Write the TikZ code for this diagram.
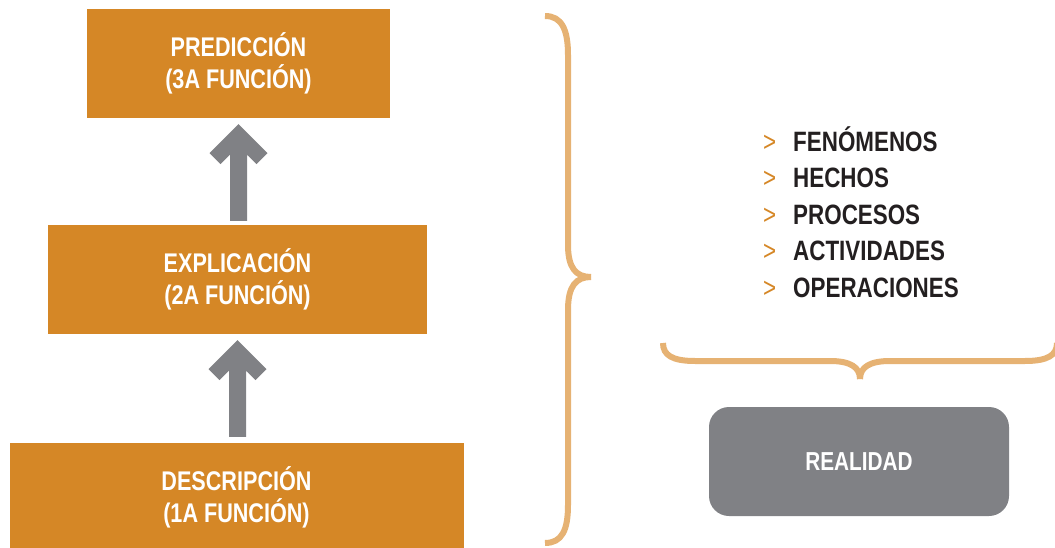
\documentclass[tikz,border=0pt]{standalone}
\usepackage{fontspec}
\setmainfont{Liberation Sans}[FakeStretch=0.8]
\usetikzlibrary{calc}
\definecolor{boxorange}{HTML}{D58726}
\definecolor{bracecol}{HTML}{E6B273}
\definecolor{arrowgray}{HTML}{808185}
\definecolor{textdark}{HTML}{231F20}
\tikzset{
  obox/.style={fill=boxorange, text=white, align=center, inner sep=0pt,
    minimum height=109pt, font=\bfseries\fontsize{27}{32}\selectfont},
  rbox/.style={fill=arrowgray, rounded corners=20pt, text=white, inner sep=0pt,
    minimum width=300pt, minimum height=109pt, font=\bfseries\fontsize{26}{30}\selectfont},
  listitem/.style={anchor=base west, inner sep=0pt, text=textdark,
    font=\bfseries\fontsize{28}{32}\selectfont},
  listmark/.style={anchor=base west, inner sep=0pt, text=boxorange,
    font=\fontsize{28}{32}\selectfont},
  bracepath/.style={draw=bracecol, line width=6pt},
  bigarrow/.style={fill=arrowgray}
}
\begin{document}
\begin{tikzpicture}[x=1pt,y=-1pt]
\useasboundingbox (0,0) rectangle (1055,548);

% boxes
\node[obox, minimum width=303pt] (p) at (238.5,63.5) {PREDICCIÓN\\(3A FUNCIÓN)};
\node[obox, minimum width=379pt] (e) at (237.5,279.5) {EXPLICACIÓN\\(2A FUNCIÓN)};
\node[obox, minimum width=454pt] (d) at (236.5,497.5) {DESCRIPCIÓN\\(1A FUNCIÓN)};

% arrows
\coordinate (a1t) at ($(p.south)+(0,6)$);
\coordinate (a1b) at ($(a1t |- e.north)+(0,-4)$);
\fill[bigarrow] ($(a1b)+(-8.5,0)$) -- ($(a1t)+(-8.5,30.5)$) -- ++(-9.5,9.5) -- ++(-11,-11)
  -- (a1t) -- ++(29,29) -- ++(-11,11) -- ++(-9.5,-9.5) -- ($(a1b)+(8.5,0)$) -- cycle;

\coordinate (a2t) at ($(e.south)+(0,6)$);
\coordinate (a2b) at ($(a2t |- d.north)+(0,-6)$);
\fill[bigarrow] ($(a2b)+(-8.5,0)$) -- ($(a2t)+(-8.5,30.5)$) -- ++(-9.5,9.5) -- ++(-11,-11)
  -- (a2t) -- ++(29,29) -- ++(-11,11) -- ++(-9.5,-9.5) -- ($(a2b)+(8.5,0)$) -- cycle;

% vertical brace
\draw[bracepath] (545,16) .. controls (562,16) and (568,30) .. (568,55)
  -- (568,245) .. controls (568,268) and (576,277) .. (591,277);
\draw[bracepath] (591,277) .. controls (576,277) and (568,286) .. (568,310)
  -- (568,505) .. controls (568,530) and (562,543) .. (545,543);

% horizontal brace
\draw[bracepath] (663,343) .. controls (663,355) and (672,361) .. (695,361)
  -- (830,361) .. controls (850,361) and (860,367) .. (860,379);
\draw[bracepath] (860,379) .. controls (860,367) and (870,361) .. (890,361)
  -- (1025,361) .. controls (1048,361) and (1057,355) .. (1057,343);

% list
\node[listmark] (m1) at (763,152) {>};
\node[listitem] (i1) at (793,152) {FENÓMENOS};
\node[listmark] (m2) at (763,188) {>};
\node[listitem] (i2) at (793,188) {HECHOS};
\node[listmark] (m3) at (763,225) {>};
\node[listitem] (i3) at (793,225) {PROCESOS};
\node[listmark] (m4) at (763,261) {>};
\node[listitem] (i4) at (793,261) {ACTIVIDADES};
\node[listmark] (m5) at (763,297) {>};
\node[listitem] (i5) at (793,297) {OPERACIONES};

% reality box
\node[rbox] (r) at (859,461.5) {REALIDAD};
\end{tikzpicture}
\end{document}
